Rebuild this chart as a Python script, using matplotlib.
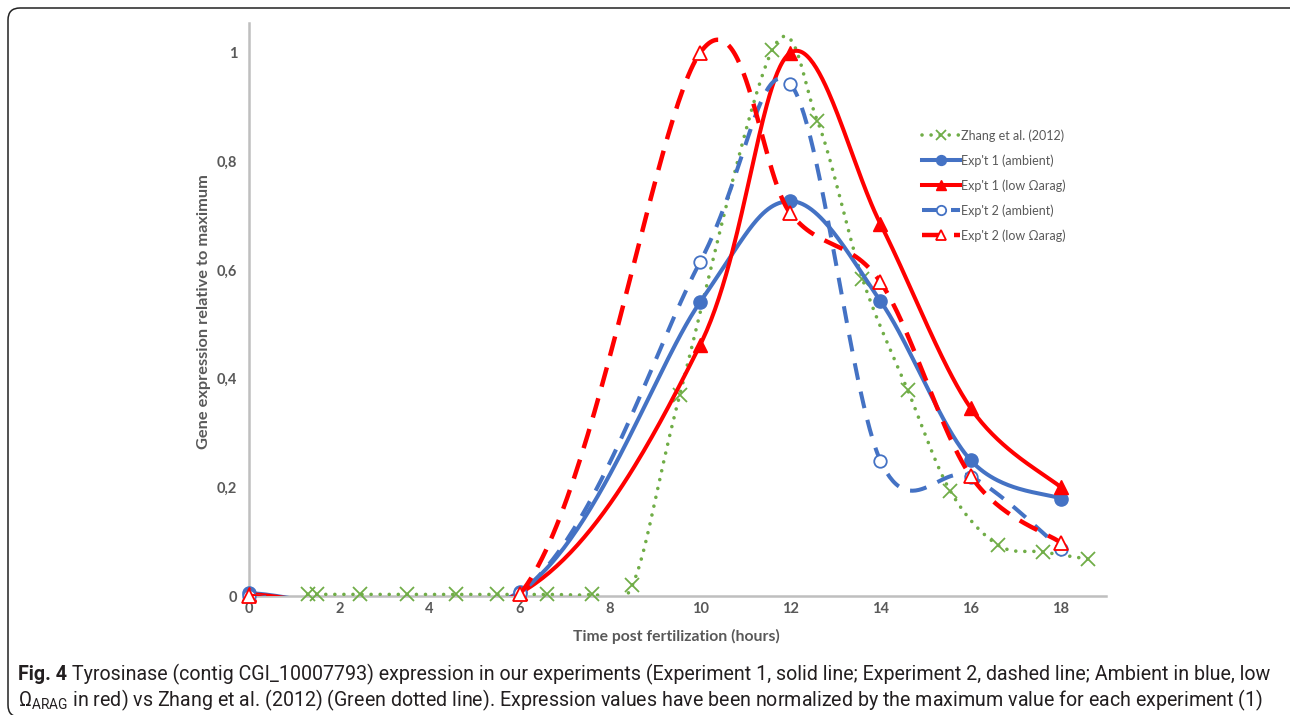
import numpy as np
import matplotlib
matplotlib.use("Agg")
import matplotlib.pyplot as plt
from matplotlib import font_manager
from matplotlib.path import Path
from matplotlib.patches import PathPatch
from matplotlib.lines import Line2D

# ---------------- data ----------------
hours_exp = [0, 6, 10, 12, 14, 16, 18]
exp1_ambient = [0.005, 0.008, 0.541, 0.727, 0.543, 0.250, 0.179]
exp1_low = [0.003, 0.005, 0.462, 1.000, 0.685, 0.346, 0.200]
exp2_ambient = [0.000, 0.005, 0.615, 0.943, 0.249, 0.220, 0.087]
exp2_low = [0.000, 0.003, 1.000, 0.705, 0.578, 0.221, 0.098]

hours_zhang = [1.3, 1.5, 2.45, 3.5, 4.6, 5.5, 6.6, 7.6, 8.5, 9.55,
               11.6, 12.6, 13.6, 14.6, 15.55, 16.6, 17.6, 18.6]
zhang = [0.003, 0.003, 0.003, 0.003, 0.003, 0.003, 0.003, 0.003, 0.02, 0.37,
         1.005, 0.875, 0.584, 0.38, 0.193, 0.094, 0.081, 0.068]

x_ticks = [0, 2, 4, 6, 8, 10, 12, 14, 16, 18]
y_ticks = [0, 0.2, 0.4, 0.6, 0.8, 1.0]
y_tick_labels = ["0", "0,2", "0,4", "0,6", "0,8", "1"]

legend_labels = ["Zhang et al. (2012)", "Exp't 1 (ambient)", "Exp't 1 (low \u03a9arag)",
                 "Exp't 2 (ambient)", "Exp't 2 (low \u03a9arag)"]

BLUE = "#4472C4"
RED = "#FF0000"
GREEN = "#70AD47"
TXT = "#595959"
AXC = "#BFBFBF"

avail = {f.name for f in font_manager.fontManager.ttflist}
def pick(*names):
    for n in names:
        if n in avail:
            return n
    return "DejaVu Sans"

chart_font = pick("Lato", "Open Sans", "Noto Sans")
cap_font = pick("Liberation Sans Narrow", "Roboto", "Open Sans", "Noto Sans")
plt.rcParams["font.family"] = [chart_font, "DejaVu Sans"]

W, H = 1290, 715
fig = plt.figure(figsize=(W / 100, H / 100), dpi=100)

def fx(px):
    return px / W

def fy(py):
    return 1 - py / H

x0px, x19px = 249, 1106
y0px, ytop = 596, 23
ax = fig.add_axes([fx(x0px), fy(y0px), (x19px - x0px) / W, (y0px - ytop) / H])
ax.set_xlim(0, 19)
ax.set_ylim(0, 1.055)
for s in ["top", "right"]:
    ax.spines[s].set_visible(False)
for s in ["left", "bottom"]:
    ax.spines[s].set_color(AXC)
    ax.spines[s].set_linewidth(1.8)
    ax.spines[s].set_zorder(0.5)
ax.set_xticks(x_ticks)
ax.set_xticklabels([str(v) for v in x_ticks])
ax.set_yticks(y_ticks)
ax.set_yticklabels(y_tick_labels)
ax.tick_params(axis="both", length=0, labelsize=10.5, labelcolor=TXT)
ax.tick_params(axis="y", pad=8.5)
ax.tick_params(axis="x", pad=4.5)
for lab in ax.get_xticklabels() + ax.get_yticklabels():
    lab.set_fontweight("bold")


def smooth(xs, ys, n=60):
    """Excel-style smoothed line: cubic Bezier through the points (Catmull-Rom)."""
    P = np.column_stack([xs, ys]).astype(float)
    m = len(P)
    out = []
    for i in range(m - 1):
        p0 = P[i - 1] if i > 0 else P[i]
        p1 = P[i]
        p2 = P[i + 1]
        p3 = P[i + 2] if i + 2 < m else P[i + 1]
        c1 = p1 + (p2 - p0) / 6.0
        c2 = p2 - (p3 - p1) / 6.0
        t = np.linspace(0, 1, n)[:, None]
        seg = ((1 - t) ** 3) * p1 + 3 * ((1 - t) ** 2) * t * c1 + 3 * (1 - t) * t ** 2 * c2 + t ** 3 * p2
        out.append(seg if i == 0 else seg[1:])
    out = np.vstack(out)
    return out[:, 0], out[:, 1]


series = [
    dict(x=hours_zhang, y=zhang, color=GREEN, ls=(0, (0.01, 2.5)), lw=2.6, marker="x",
         ms=9.5, mfc=GREEN, mew=1.3, cap="round", z=2),
    dict(x=hours_exp, y=exp1_ambient, color=BLUE, ls="-", lw=2.9, marker="o",
         ms=9.5, mfc=BLUE, mew=1.0, cap="butt", z=3),
    dict(x=hours_exp, y=exp1_low, color=RED, ls="-", lw=2.9, marker="^",
         ms=10, mfc=RED, mew=1.0, cap="butt", z=4),
    dict(x=hours_exp, y=exp2_ambient, color=BLUE, ls=(0, (4.2, 3.0)), lw=2.9, marker="o",
         ms=9, mfc="white", mew=1.3, cap="butt", z=5),
    dict(x=hours_exp, y=exp2_low, color=RED, ls=(0, (4.5, 2.7)), lw=3.2, marker="^",
         ms=10, mfc="white", mew=1.3, cap="butt", z=6),
]

handles = []
for s in series:
    sx, sy = smooth(s["x"], s["y"])
    ax.plot(sx, sy, color=s["color"], linestyle=s["ls"], linewidth=s["lw"],
            dash_capstyle=s["cap"], solid_capstyle="butt", zorder=s["z"])
    ax.plot(s["x"], s["y"], linestyle="none", marker=s["marker"], markersize=s["ms"],
            markerfacecolor=s["mfc"], markeredgecolor=s["color"], markeredgewidth=s["mew"],
            zorder=s["z"] + 0.5, clip_on=False)
    handles.append(Line2D([], [], color=s["color"], linestyle=s["ls"], linewidth=s["lw"],
                          dash_capstyle=s["cap"], marker=s["marker"], markersize=s["ms"] * 0.75,
                          markerfacecolor=s["mfc"], markeredgecolor=s["color"],
                          markeredgewidth=s["mew"]))

leg = fig.legend(handles, legend_labels, loc="upper left",
                 bbox_to_anchor=(fx(917), fy(124)), frameon=False, fontsize=9,
                 handlelength=3.0, handletextpad=0.15, labelspacing=1.0,
                 labelcolor=TXT, borderaxespad=0)

fig.text(fx(676), fy(636), "Time post fertilization (hours)", ha="center", va="center",
         fontsize=11.3, fontweight="bold", color=TXT)
fig.text(fx(204), fy(312), "Gene expression relative to maximum", ha="center", va="center",
         rotation=90, fontsize=11.8, fontweight="bold", color=TXT)

# ---------------- border ----------------
r = 12
verts = [(W + 10, 8), (8 + r, 8), (8, 8), (8, 8 + r), (8, 717 - r), (8, 717), (8 + r, 717)]
codes = [Path.MOVETO, Path.LINETO, Path.CURVE3, Path.CURVE3, Path.LINETO, Path.CURVE3, Path.CURVE3]
verts_f = [(fx(a), fy(b)) for a, b in verts]
fig.patches.append(PathPatch(Path(verts_f, codes), transform=fig.transFigure,
                             facecolor="none", edgecolor="#222222", linewidth=1.1))

# ---------------- caption ----------------
plt.rcParams["mathtext.fontset"] = "custom"
plt.rcParams["mathtext.rm"] = cap_font
plt.rcParams["mathtext.it"] = cap_font
cap1_bold = "Fig. 4"
cap1_rest = (" Tyrosinase (contig CGI_10007793) expression in our experiments (Experiment 1, solid line; "
             "Experiment 2, dashed line; Ambient in blue, low")
cap2 = (r"$\Omega_{\mathrm{ARAG}}$ in red) vs Zhang et al. (2012) (Green dotted line). "
        "Expression values have been normalized by the maximum value for each experiment (1)")

fs = 13
renderer = fig.canvas.get_renderer()
t_b = fig.text(fx(18), fy(680), cap1_bold, fontsize=fs, fontweight="bold", family=cap_font,
               color="#231F20", va="baseline")
bb = t_b.get_window_extent(renderer)
t_r = fig.text(bb.x1 / W, fy(680), cap1_rest, fontsize=fs, family=cap_font,
               color="#231F20", va="baseline")
tot = t_r.get_window_extent(renderer).x1 - bb.x0
scale = (1272 - 18) / tot
fs2 = fs * scale
t_b.set_fontsize(fs2)
bb = t_b.get_window_extent(renderer)
t_r.set_fontsize(fs2)
t_r.set_x(bb.x1 / W)
fig.text(fx(18), fy(706), cap2, fontsize=fs2, family=cap_font, color="#231F20", va="baseline")

fig.savefig("out.png", dpi=100)
